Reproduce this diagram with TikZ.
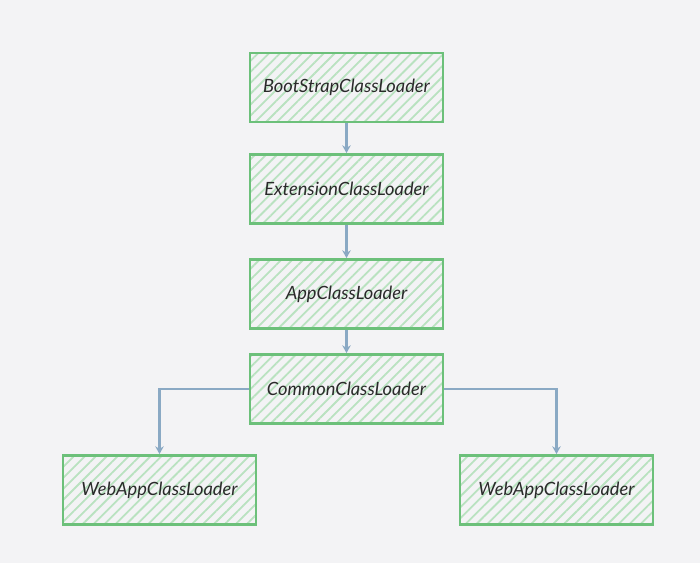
\documentclass[tikz,border=0pt]{standalone}
\usepackage{fontspec}
\setmainfont{Lato}
\usepackage{xcolor}
\usepackage{tikz}
\usetikzlibrary{arrows.meta,patterns.meta,positioning}
\definecolor{bgcol}{HTML}{F3F3F5}
\definecolor{boxgreen}{HTML}{6CC07A}
\definecolor{hatchgreen}{HTML}{B9E2C0}
\definecolor{linkblue}{HTML}{8AA9C4}
\definecolor{txtcol}{HTML}{2A2A2A}

\tikzset{
  loader/.style={draw=boxgreen, line width=2pt,
    pattern={Lines[angle=45,distance=5.5pt,line width=1.3pt]}, pattern color=hatchgreen,
    minimum width=4.825cm, minimum height=1.725cm, inner sep=0pt,
    font=\itshape\fontsize{13}{15}\selectfont, text=txtcol},
  link/.style={draw=linkblue, line width=1.7pt, -{Stealth[length=5.5pt,width=6pt]}}
}

\begin{document}
\begin{tikzpicture}[x=0.025cm,y=-0.025cm]
        % fundo
        \fill[bgcol] (0,0) rectangle (700,563);
        \useasboundingbox (0,0) rectangle (700,563);
        % caixas
        \node[loader] (boot)   at (346.5,87.5) {BootStrapClassLoader};
        \node[loader] (ext)    at (346.5,189)  {ExtensionClassLoader};
        \node[loader] (app)    at (346.5,294)  {AppClassLoader};
        \node[loader] (common) at (346.5,389)  {CommonClassLoader};
        \node[loader] (webl)   at (159.5,490)  {WebAppClassLoader};
        \node[loader] (webr)   at (556.5,490)  {WebAppClassLoader};
        % ligacoes
        \draw[link] (boot) -- (ext);
        \draw[link] (ext) -- (app);
        \draw[link] (app) -- (common);
        \draw[link] (common.west) -| (webl.north);
        \draw[link] (common.east) -| (webr.north);
      \end{tikzpicture}
\end{document}
